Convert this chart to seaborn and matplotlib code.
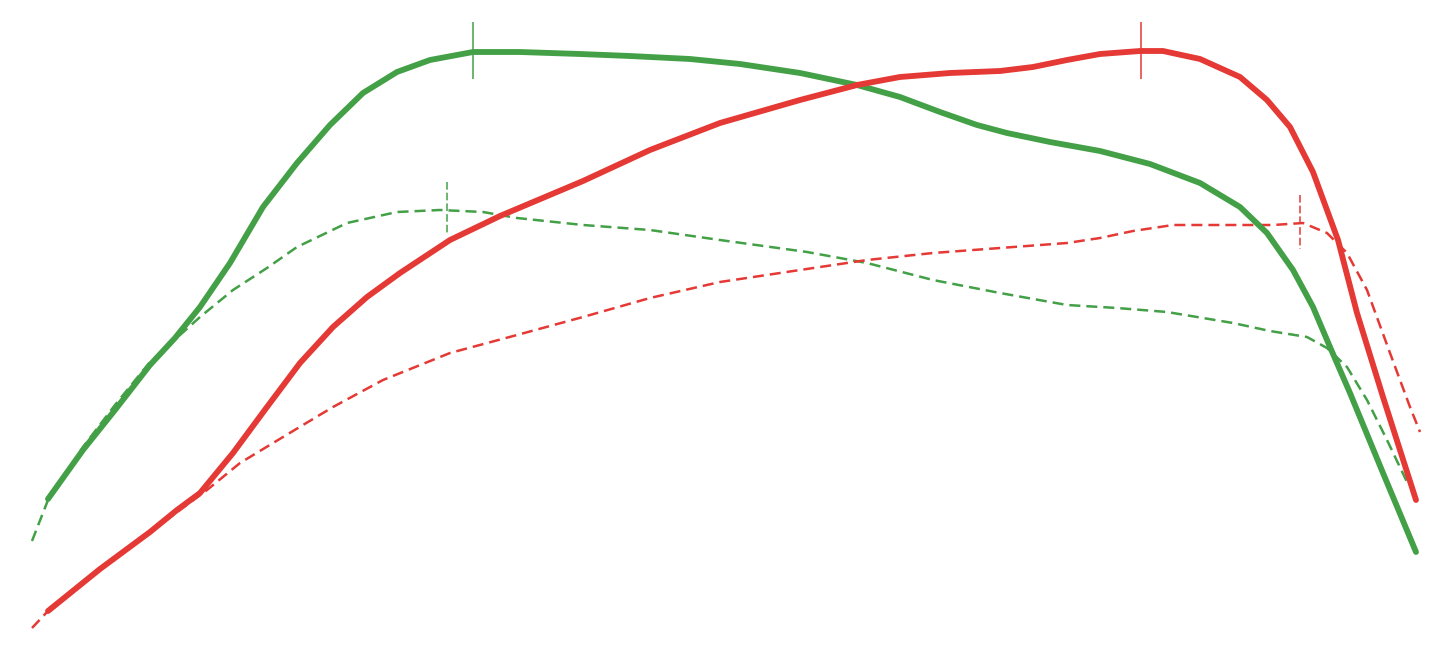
import matplotlib
matplotlib.use("Agg")
import matplotlib.pyplot as plt
import seaborn as sns

# x / y (pixel-like units, y grows downward)
tq_x = [48, 83, 115, 150, 175, 200, 230, 263, 297, 330, 363, 397, 430, 473, 520, 580,
        630, 690, 740, 800, 857, 900, 940, 977, 1007, 1050, 1100, 1150, 1200, 1240,
        1267, 1293, 1313, 1330, 1350, 1383, 1416]
tq_y = [499, 450, 410, 365, 338, 307, 263, 207, 163, 125, 93, 72, 60, 52, 52, 54,
        56, 59, 64, 73, 85, 97, 112, 125, 133, 142, 151, 164, 183, 207,
        233, 270, 307, 347, 393, 473, 552]

pw_x = [48, 100, 150, 177, 200, 233, 267, 300, 333, 367, 400, 450, 500, 583, 650, 720,
        800, 857, 900, 950, 1000, 1033, 1067, 1100, 1140, 1163, 1200, 1240, 1267, 1290,
        1313, 1338, 1357, 1383, 1416]
pw_y = [611, 569, 532, 510, 493, 453, 407, 363, 327, 297, 273, 240, 216, 181, 150, 123,
        100, 85, 77, 73, 71, 67, 60, 54, 51, 51, 59, 77, 100, 127,
        172, 240, 313, 397, 500]

tq_stock_x = [32, 48, 83, 115, 150, 200, 233, 267, 297, 347, 397, 440, 483, 517,
              583, 650, 720, 807, 867, 933, 1000, 1067, 1117, 1167, 1233, 1270, 1307,
              1327, 1347, 1367, 1387, 1407]
tq_stock_y = [541, 500, 447, 405, 362, 317, 290, 268, 247, 223, 212, 210, 212, 218,
              225, 230, 240, 252, 263, 280, 293, 305, 308, 312, 323, 331, 337,
              348, 367, 400, 440, 482]

pw_stock_x = [32, 48, 100, 150, 207, 240, 283, 333, 383, 450, 517, 583, 650, 720, 800,
              867, 933, 1000, 1067, 1100, 1133, 1173, 1233, 1273, 1303, 1327, 1347,
              1367, 1390, 1410, 1420]
pw_stock_y = [628, 611, 569, 532, 490, 463, 437, 407, 380, 353, 335, 317, 298, 282, 270,
              260, 253, 248, 243, 238, 231, 225, 225, 225, 223, 233, 253,
              290, 353, 407, 432]

# peak markers: x, top, bottom
peaks = [(473, 22, 79, "tq"), (1141, 22, 79, "pw"), (447, 182, 235, "tq_s"), (1300, 195, 249, "pw_s")]

green = "#43A047"
red = "#E53935"

sns.set_style("white")
fig = plt.figure(figsize=(14.51, 6.55), dpi=100)
ax = fig.add_axes([0, 0, 1, 1])

for xs, ys, c in [(tq_stock_x, tq_stock_y, green), (pw_stock_x, pw_stock_y, red)]:
    sns.lineplot(x=xs, y=ys, color=c, linewidth=1.8, ax=ax)
    ax.lines[-1].set_dashes((4.4, 2.4))

for xs, ys, c in [(tq_x, tq_y, green), (pw_x, pw_y, red)]:
    sns.lineplot(x=xs, y=ys, color=c, linewidth=4.2, ax=ax,
                 solid_capstyle="round", solid_joinstyle="round")

for x, top, bot, k in peaks:
    c = green if k.startswith("tq") else red
    ls = (0, (5, 2)) if k.endswith("_s") else "-"
    ax.vlines(x, top, bot, color=c, linewidth=1.1, linestyles=[ls])

ax.set_xlim(0, 1451)
ax.set_ylim(655, 0)
ax.axis("off")
fig.savefig("out.png", dpi=100, facecolor="white")
